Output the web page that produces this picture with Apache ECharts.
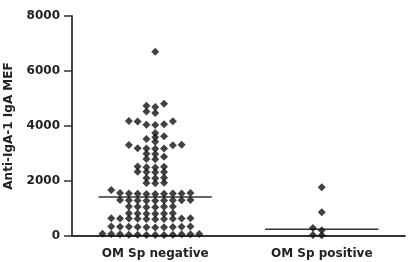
<!DOCTYPE html>
<html>
<head>
<meta charset="utf-8">
<style>
  html, body { margin: 0; padding: 0; background: #fff; }
  #chart { width: 412px; height: 262px; }
</style>
<script src="https://cdn.jsdelivr.net/npm/echarts@6/dist/echarts.min.js"></script>
</head>
<body>
<div id="chart"></div>
<script>
const categories = ['OM Sp negative', 'OM Sp positive'];
const yTicks = [0, 2000, 4000, 6000, 8000];

// values, roughly row by row from the top
const negativeValues = [
  6700,
  4810, 4740, 4690, 4530, 4470,
  4180, 4170, 4160, 4060, 4050, 4040,
  3745, 3625, 3590, 3527, 3430,
  3320, 3310, 3300,
  3190, 3180, 3180, 3170,
  2990, 2980, 2885, 2800, 2790,
  2530, 2520, 2500, 2490,
  2340, 2330, 2330, 2320,
  2120, 2110, 2100,
  1940, 1930, 1920,
  1670,
  1560, 1560, 1550, 1550, 1550, 1540, 1540, 1530, 1530,
  1310, 1310, 1300, 1300, 1300, 1290, 1290, 1280, 1280,
  1070, 1070, 1060, 1060, 1050, 1050,
  830, 830, 820, 820, 810, 810,
  650, 650, 640, 640, 640, 630, 630, 620, 620, 610,
  350, 350, 340, 340, 340, 330, 330, 320, 320, 310,
  80, 70, 70, 60, 60, 60, 50, 50, 50, 40, 40, 40
];
const positiveValues = [1770, 860, 290, 206, 40, 30];

const groups = [negativeValues, positiveValues];

const median = (arr) => {
  const s = arr.slice().sort((a, b) => a - b);
  const m = Math.floor(s.length / 2);
  return s.length % 2 ? s[m] : (s[m - 1] + s[m]) / 2;
};

// column-scatter layout: push each point sideways (half-column steps) until it is free
const plotH = 220, yMax = 8000, step = 8.8;
const swarm = (values, catIndex) => {
  const placed = [];
  const out = [];
  values.slice().sort((a, b) => a - b).forEach((v) => {
    const py = v * plotH / yMax;
    let k = 0, dx = 0;
    while (true) {
      dx = (k % 2 ? -1 : 1) * Math.ceil(k / 2) * step / 2;
      const hit = placed.some(p => Math.abs(p[0] - dx) < step - 1 && Math.abs(p[1] - py) < 4.2);
      if (!hit) break;
      k++;
    }
    placed.push([dx, py]);
    out.push({ value: [catIndex, v], symbolOffset: [dx, 0] });
  });
  return out;
};

const points = [].concat(swarm(negativeValues, 0), swarm(positiveValues, 1));
const medians = groups.map((g, i) => [i, median(g)]);

const myChart = echarts.init(document.getElementById('chart'));
const font = '"DejaVu Sans", sans-serif';
const axisColor = '#333';

myChart.setOption({
  animation: false,
  grid: { left: 72, right: 7, top: 16, bottom: 26, outerBoundsMode: 'none', containLabel: false },
  xAxis: {
    type: 'category',
    data: categories,
    axisLine: { lineStyle: { color: axisColor, width: 1.8 } },
    axisTick: { alignWithLabel: true, length: 6, lineStyle: { color: axisColor, width: 1.5 } },
    axisLabel: { color: '#222', fontWeight: 'bold', fontSize: 12, fontFamily: font, margin: 12 }
  },
  yAxis: {
    type: 'value',
    min: yTicks[0],
    max: yTicks[yTicks.length - 1],
    interval: 2000,
    name: 'Anti-IgA-1 IgA MEF',
    nameLocation: 'middle',
    nameGap: 57,
    nameTextStyle: { color: '#222', fontWeight: 'bold', fontSize: 12, fontFamily: font },
    axisLine: { show: true, lineStyle: { color: axisColor, width: 1.8 } },
    axisTick: { show: true, length: 8, lineStyle: { color: axisColor, width: 1.5 } },
    axisLabel: {
      color: '#222', fontWeight: 'bold', fontSize: 12, fontFamily: font, margin: 12,
      formatter: (v) => String(v)
    },
    splitLine: { show: false }
  },
  series: [
    {
      type: 'scatter',
      symbol: 'diamond',
      symbolSize: 8,
      itemStyle: { color: '#111' },
      data: points
    },
    {
      type: 'custom',
      data: medians,
      renderItem: (params, api) => {
        const c = api.coord([api.value(0), api.value(1)]);
        const half = api.size([1, 0])[0] * 0.34;
        return {
          type: 'line',
          shape: { x1: c[0] - half, y1: c[1], x2: c[0] + half, y2: c[1] },
          style: { stroke: '#333', lineWidth: 1.5 }
        };
      }
    }
  ]
});
</script>
</body>
</html>
